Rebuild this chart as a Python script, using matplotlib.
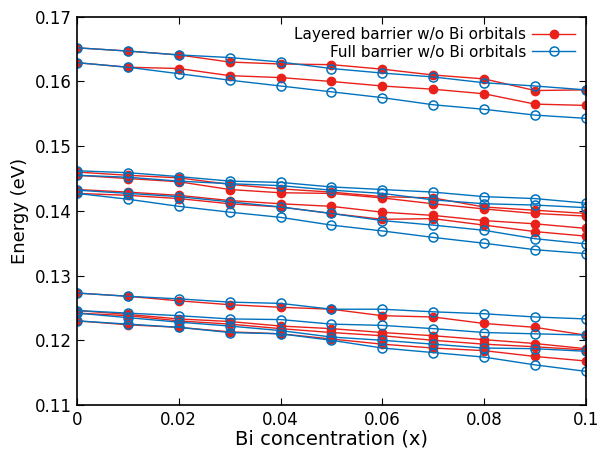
import matplotlib
matplotlib.use('Agg')
import matplotlib.pyplot as plt
import numpy as np

plt.rcParams["font.family"] = "DejaVu Sans"

# Bi concentration
x = [0, 0.01, 0.02, 0.03, 0.04, 0.05, 0.06, 0.07, 0.08, 0.09, 0.1]

# Layered barrier w/o Bi orbitals (red, filled)
layered = [
    [0.1652, 0.1647, 0.1641, 0.1630, 0.1627, 0.1626, 0.1619, 0.1610, 0.1604, 0.1586, 0.1587],
    [0.1629, 0.1622, 0.1620, 0.1609, 0.1606, 0.1600, 0.1593, 0.1588, 0.1581, 0.1565, 0.1563],
    [0.1460, 0.1455, 0.1451, 0.1441, 0.1434, 0.1429, 0.1422, 0.1420, 0.1406, 0.1401, 0.1396],
    [0.1455, 0.1450, 0.1445, 0.1433, 0.1428, 0.1427, 0.1420, 0.1411, 0.1403, 0.1396, 0.1392],
    [0.1433, 0.1429, 0.1424, 0.1416, 0.1411, 0.1407, 0.1398, 0.1393, 0.1385, 0.1380, 0.1373],
    [0.1427, 0.1424, 0.1419, 0.1411, 0.1406, 0.1396, 0.1387, 0.1388, 0.1378, 0.1368, 0.1361],
    [0.1273, 0.1268, 0.1261, 0.1255, 0.1251, 0.1248, 0.1238, 0.1236, 0.1226, 0.1220, 0.1208],
    [0.1246, 0.1240, 0.1233, 0.1229, 0.1222, 0.1218, 0.1212, 0.1207, 0.1201, 0.1195, 0.1187],
    [0.1242, 0.1238, 0.1230, 0.1225, 0.1218, 0.1212, 0.1207, 0.1200, 0.1194, 0.1190, 0.1185],
    [0.1230, 0.1224, 0.1220, 0.1213, 0.1210, 0.1202, 0.1194, 0.1188, 0.1184, 0.1175, 0.1168],
]

# Full barrier w/o Bi orbitals (blue, open)
full = [
    [0.1652, 0.1647, 0.1641, 0.1637, 0.1630, 0.1620, 0.1613, 0.1607, 0.1598, 0.1593, 0.1587],
    [0.1629, 0.1622, 0.1612, 0.1602, 0.1593, 0.1584, 0.1575, 0.1564, 0.1557, 0.1548, 0.1543],
    [0.1462, 0.1459, 0.1453, 0.1446, 0.1444, 0.1437, 0.1433, 0.1429, 0.1422, 0.1419, 0.1412],
    [0.1455, 0.1452, 0.1446, 0.1442, 0.1439, 0.1432, 0.1427, 0.1417, 0.1411, 0.1409, 0.1405],
    [0.1432, 0.1427, 0.1422, 0.1414, 0.1406, 0.1396, 0.1385, 0.1378, 0.1370, 0.1357, 0.1349],
    [0.1427, 0.1418, 0.1407, 0.1398, 0.1390, 0.1378, 0.1369, 0.1359, 0.1350, 0.1340, 0.1334],
    [0.1273, 0.1268, 0.1264, 0.1259, 0.1257, 0.1248, 0.1248, 0.1244, 0.1241, 0.1236, 0.1233],
    [0.1246, 0.1242, 0.1238, 0.1233, 0.1232, 0.1225, 0.1223, 0.1218, 0.1212, 0.1210, 0.1208],
    [0.1242, 0.1235, 0.1228, 0.1222, 0.1215, 0.1205, 0.1200, 0.1194, 0.1188, 0.1187, 0.1183],
    [0.1230, 0.1225, 0.1220, 0.1212, 0.1210, 0.1200, 0.1188, 0.1181, 0.1174, 0.1162, 0.1152],
]

xticks = [0, 0.02, 0.04, 0.06, 0.08, 0.1]
xticklabels = ['0', '0.02', '0.04', '0.06', '0.08', '0.1']
yticks = [0.11, 0.12, 0.13, 0.14, 0.15, 0.16, 0.17]

red = '#e8211b'
blue = '#0072bd'

fig = plt.figure(figsize=(6.02, 4.53), dpi=100)
ax = fig.add_axes([0.128, 0.106, 0.845, 0.857])

for i, y in enumerate(layered):
    ax.plot(x, y, '-o', color=red, lw=1.0, ms=6, mfc=red, mec=red,
            label="Layered barrier w/o Bi orbitals" if i == 0 else None)
for i, y in enumerate(full):
    ax.plot(x, y, '-o', color=blue, lw=1.0, ms=6.5, mfc='none', mec=blue, mew=1.1,
            label="Full barrier w/o Bi orbitals" if i == 0 else None)

ax.set_xlim(0, 0.1)
ax.set_ylim(0.11, 0.17)
ax.set_xticks(xticks)
ax.set_xticklabels(xticklabels)
ax.set_yticks(yticks)
ax.set_yticklabels(['%.2f' % v for v in yticks])
ax.tick_params(direction='in', top=True, right=True, labelsize=12, length=5, pad=4)
for s in ax.spines.values():
    s.set_linewidth(1.2)

ax.set_xlabel('Bi concentration (x)', fontsize=14, labelpad=1)
ax.set_ylabel('Energy (eV)', fontsize=13, labelpad=4)

# markerfirst=False puts the sample on the right and right-aligns the rows
ax.legend(loc='upper right', frameon=False, markerfirst=False, fontsize=11,
          handlelength=2.8, handletextpad=0.4, borderaxespad=0.3, labelspacing=0.15)

fig.savefig('out.png', dpi=100)
